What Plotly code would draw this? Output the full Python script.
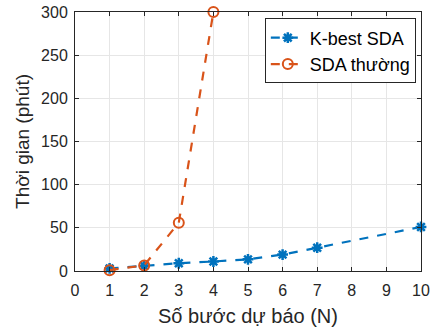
import plotly.graph_objects as go

kbest_x = [1, 2, 3, 4, 5, 6, 7, 10]
kbest_y = [3, 6, 9, 11, 13.5, 19, 27, 51]
sda_x = [1, 2, 3, 4]
sda_y = [1, 6.5, 56, 300]

x_ticks = list(range(0, 11))
y_ticks = [0, 50, 100, 150, 200, 250, 300]

fig = go.Figure()
fig.add_trace(go.Scatter(
    x=kbest_x, y=kbest_y, name="K-best SDA", mode="lines+markers",
    line=dict(color="#0072BD", width=2.2, dash="dash"),
    marker=dict(symbol="asterisk-open", size=9, color="#0072BD",
                line=dict(color="#0072BD", width=2.5)),
    cliponaxis=False,
))
fig.add_trace(go.Scatter(
    x=sda_x, y=sda_y, name="SDA thường", mode="lines+markers",
    line=dict(color="#D95319", width=2.2, dash="dash"),
    marker=dict(symbol="circle-open", size=10, color="#D95319",
                line=dict(color="#D95319", width=2)),
    cliponaxis=False,
))

axis_common = dict(
    showline=True, linecolor="#262626", linewidth=1, mirror="ticks",
    ticks="inside", ticklen=4, tickcolor="#262626",
    showgrid=True, gridcolor="#E6E6E6", gridwidth=1, zeroline=False,
    automargin=False,
    tickfont=dict(family="Liberation Sans, Arial", size=16, color="#262626"),
)

fig.update_layout(
    width=430, height=332,
    margin=dict(l=75, r=9, t=12, b=61, autoexpand=False),
    paper_bgcolor="white", plot_bgcolor="white",
    font=dict(family="Liberation Sans, Arial", color="#262626"),
    xaxis=dict(range=[0, 10], tickvals=x_ticks, ticklabelstandoff=5,
               title=dict(text="Số bước dự báo (N)", font=dict(size=20), standoff=10),
               **axis_common),
    yaxis=dict(range=[0, 300], tickvals=y_ticks, ticklabelstandoff=3,
               title=dict(text="Thời gian (phút)", font=dict(size=19), standoff=6),
               **axis_common),
    legend=dict(x=0.985, y=0.975, xanchor="right", yanchor="top",
                bgcolor="white", bordercolor="#262626", borderwidth=1,
                font=dict(size=18, color="#000000"),
                itemwidth=34, tracegroupgap=0),
    showlegend=True,
)

fig.write_html("out.html", config={"displayModeBar": False},
               post_script="document.body.style.margin='0';")
